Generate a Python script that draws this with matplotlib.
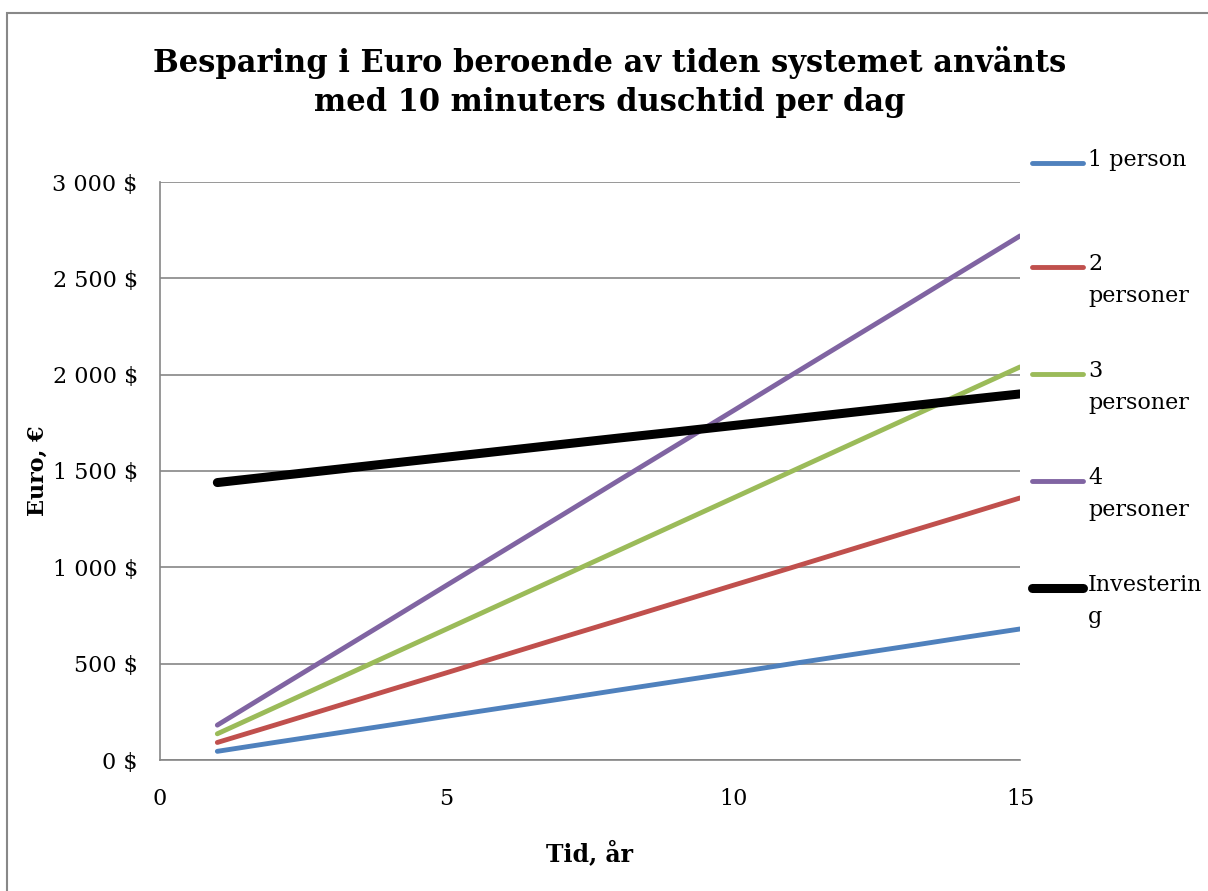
import numpy as np
import matplotlib.pyplot as plt
from matplotlib.lines import Line2D
from matplotlib.patches import Rectangle

# data (years 1..15)
years = [1, 2, 3, 4, 5, 6, 7, 8, 9, 10, 11, 12, 13, 14, 15]
person_1 = [45, 91, 136, 181, 227, 272, 317, 363, 408, 453, 499, 544, 589, 635, 680]
personer_2 = [91, 181, 272, 363, 453, 544, 635, 725, 816, 907, 997, 1088, 1179, 1269, 1360]
personer_3 = [136, 272, 408, 544, 680, 816, 952, 1088, 1224, 1360, 1496, 1632, 1768, 1904, 2040]
personer_4 = [181, 363, 544, 725, 907, 1088, 1269, 1451, 1632, 1813, 1995, 2176, 2357, 2539, 2720]
investering = [1440, 1473, 1506, 1539, 1572, 1605, 1638, 1671, 1703, 1736, 1769, 1802, 1835, 1868, 1900]

series = [person_1, personer_2, personer_3, personer_4, investering]
labels = ['1 person', '2\npersoner', '3\npersoner', '4\npersoner', 'Investerin\ng']
colors = ['#4F81BD', '#C0504D', '#9BBB59', '#8064A2', '#000000']
widths = [3.5, 3.5, 3.5, 3.5, 6.5]

yticks = [0, 500, 1000, 1500, 2000, 2500, 3000]
ytick_labels = ['0 $', '500 $', '1 000 $', '1 500 $', '2 000 $', '2 500 $', '3 000 $']
xticks = [0, 5, 10, 15]

plt.rcParams['font.family'] = ['DejaVu Serif']

W, H = 1208, 891
fig = plt.figure(figsize=(W / 100, H / 100), dpi=100)
ax = fig.add_axes([160 / W, 1 - 760 / H, 860 / W, 578 / H])

for ys, c, lw in zip(series, colors, widths):
    ax.plot(years, ys, color=c, lw=lw, solid_capstyle='round')

ax.set_xlim(0, 15)
ax.set_ylim(0, 3000)
ax.set_yticks(yticks)
ax.set_yticklabels(ytick_labels)
ax.set_xticks(xticks)
ax.tick_params(axis='both', length=0, labelsize=16)
ax.tick_params(axis='y', pad=16)
ax.tick_params(axis='x', pad=20)
ax.grid(axis='y', color='#868686', lw=1.2)
ax.set_axisbelow(True)
for s in ['top', 'right']:
    ax.spines[s].set_visible(False)
for s in ['left', 'bottom']:
    ax.spines[s].set_color('#868686')
    ax.spines[s].set_linewidth(1.2)

ax.set_xlabel('Tid, år', fontsize=17, fontweight='bold')
ax.set_ylabel('Euro, €', fontsize=16, fontweight='bold')
ax.xaxis.set_label_coords(0.5, -(840 - 760) / 578)
ax.yaxis.set_label_coords(-(160 - 49) / 860, 0.5)

fig.text(0.505, 1 - 82 / H, 'Besparing i Euro beroende av tiden systemet använts\nmed 10 minuters duschtid per dag',
         ha='center', va='center', fontsize=22, fontweight='bold', linespacing=1.35)

# legend
leg_y = [163, 267, 374, 481, 588]
for y, lab, c, lw in zip(leg_y, labels, colors, widths):
    fig.add_artist(Line2D([1032 / W, 1083 / W], [1 - y / H, 1 - y / H], color=c, lw=lw,
                          solid_capstyle='round'))
    fig.text(1088 / W, 1 - (y - 14) / H, lab, ha='left', va='top', fontsize=16, linespacing=1.6)

# outer frame
fig.add_artist(Rectangle((7 / W, -0.1), 1.2, 1.1 - 13 / H, transform=fig.transFigure,
                         fill=False, edgecolor='#888888', lw=1.5))

fig.savefig('out.png', dpi=100)
